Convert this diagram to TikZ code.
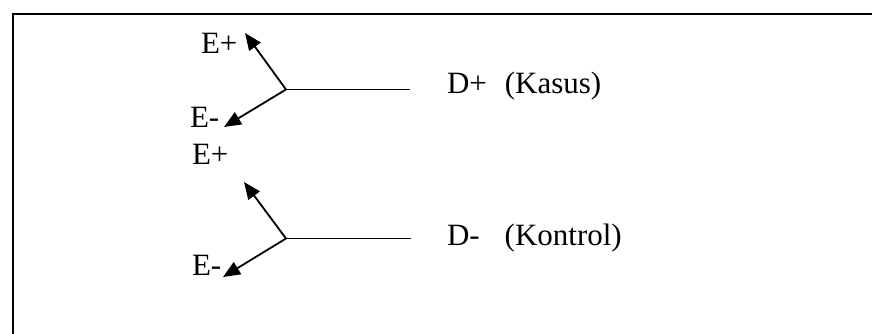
\documentclass[tikz,border=0pt]{standalone}
\usepackage{fontspec}
\setmainfont{Liberation Serif}
\usetikzlibrary{arrows.meta}
\begin{document}
\begin{tikzpicture}[x=1pt,y=-1pt,
  lbl/.style={anchor=base west,inner sep=0pt,outer sep=0pt,font=\fontsize{31}{36}\selectfont},
  conn/.style={line width=1.8pt},
  arr/.style={conn,-{Triangle[length=17pt,width=14pt]}},
  frame/.style={line width=2pt}]
\useasboundingbox (0,0) rectangle (872,333);
% frame (runs off right and bottom)
\draw[frame] (12.5,345) -- (12.5,13.5) -- (885,13.5);
% top group
\coordinate (j1) at (286,89.5);
\coordinate (e1) at (410,89.5);
\coordinate (tp1) at (245,33);
\coordinate (tm1) at (224,127);
\node[lbl] (Ep1) at (201,53) {E+};
\node[lbl] (Em1) at (190,127) {E-};
\node[lbl] (D1) at (447,93) {D+\hspace{18pt}(Kasus)};
\draw[conn] (j1) -- (e1);
\draw[arr] (j1) -- (tp1);
\draw[arr] (j1) -- (tm1);
% bottom group
\coordinate (j2) at (286,238.5);
\coordinate (e2) at (411,238.5);
\coordinate (tp2) at (244,182);
\coordinate (tm2) at (223,277);
\node[lbl] (Ep2) at (192,164) {E+};
\node[lbl] (Em2) at (192,275) {E-};
\node[lbl] (D2) at (447,245) {D-\hspace{25pt}(Kontrol)};
\draw[conn] (j2) -- (e2);
\draw[arr] (j2) -- (tp2);
\draw[arr] (j2) -- (tm2);
\end{tikzpicture}
\end{document}
